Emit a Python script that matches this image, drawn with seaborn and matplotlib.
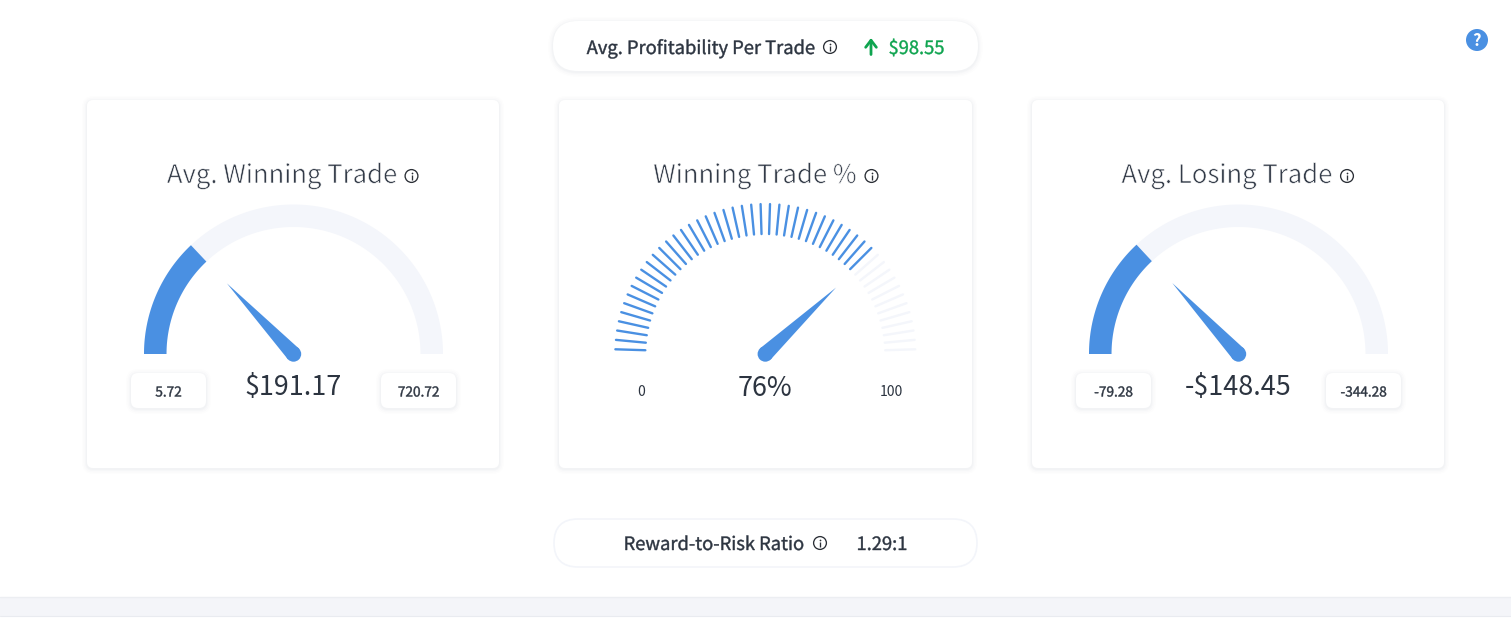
import numpy as np
import pandas as pd
import matplotlib
matplotlib.use("Agg")
import matplotlib.pyplot as plt
import matplotlib.patheffects as pe
from matplotlib.patches import FancyBboxPatch, Circle
import seaborn as sns

# Gauge readings
gauge_titles = ["Avg. Winning Trade", "Winning Trade %", "Avg. Losing Trade"]
gauge_values = [191.17, 76, -148.45]
gauge_mins = [5.72, 0, -79.28]
gauge_maxs = [720.72, 100, -344.28]
gauge_value_labels = ["$191.17", "76%", "-$148.45"]
gauge_min_labels = ["5.72", "0", "-79.28"]
gauge_max_labels = ["720.72", "100", "-344.28"]

# Summary strip
profit_label = "Avg. Profitability Per Trade"
profit_value = "$98.55"
ratio_label = "Reward-to-Risk Ratio"
ratio_value = "1.29:1"

BLUE = "#4a90e2"
TRACK = "#f4f6fb"
INK = "#2c3440"
GREEN = "#0ea44f"
TICK_COUNT = 50

sns.set_theme(style="white")
plt.rcParams["font.family"] = ["Noto Sans CJK SC", "DejaVu Sans"]

# Stroke tweaks stand in for the light and semibold weights
LIGHT = [pe.Stroke(linewidth=0.45, foreground="white")]


def semibold(color):
    return [pe.Stroke(linewidth=0.3, foreground=color)]


fig = plt.figure(figsize=(15.11, 6.27), dpi=100, facecolor="white")
ax = fig.add_axes([0, 0, 1, 1])
ax.set_xlim(0, 1511)
ax.set_ylim(627, 0)
ax.axis("off")


def on_arc(cx, cy, r, frac):
    """Point at radius r, frac of the way round a left-to-right half circle."""
    a = np.pi * np.asarray(frac)
    return cx - r * np.cos(a), cy - r * np.sin(a)


def box(x0, y0, x1, y1, radius, face="white", edge="none", shadow=True, z=1):
    if shadow:
        for grow, alpha in zip([5, 3.5, 2, 1], [0.007, 0.011, 0.015, 0.02]):
            ax.add_patch(FancyBboxPatch(
                (x0 - grow, y0 - grow + 1), x1 - x0 + 2 * grow, y1 - y0 + 2 * grow,
                boxstyle=f"round,pad=0,rounding_size={radius + grow}",
                fc="#3a4660", ec="none", alpha=alpha, zorder=z))
    ax.add_patch(FancyBboxPatch(
        (x0, y0), x1 - x0, y1 - y0,
        boxstyle=f"round,pad=0,rounding_size={radius}",
        fc=face, ec=edge, lw=1.2, zorder=z + 0.1))


def info_icon(x, y, r=6.4):
    ax.add_patch(Circle((x, y), r, fc="none", ec="#2b2f36", lw=0.95, zorder=5))
    ax.plot([x, x], [y - 0.6, y + 3.5], color="#2b2f36", lw=0.95, zorder=5,
            solid_capstyle="butt")
    ax.plot([x], [y - 3.0], "o", ms=1.25, mew=0, color="#2b2f36", zorder=5)


def band_arc(cx, cy, r_in, r_out, f0, f1, color, z):
    fr = np.linspace(f0, f1, 200)
    xo, yo = on_arc(cx, cy, r_out, fr)
    xi, yi = on_arc(cx, cy, r_in, fr[::-1])
    ax.fill(np.r_[xo, xi], np.r_[yo, yi], color=color, lw=0, zorder=z)


def needle(cx, cy, frac, length=97, hub=7.7):
    tip_x, tip_y = on_arc(cx, cy, length, frac)
    a = np.pi * frac
    px, py = np.sin(a), -np.cos(a)
    ax.fill([tip_x, cx + px * hub, cx - px * hub],
            [tip_y, cy + py * hub, cy - py * hub],
            color=BLUE, lw=0, zorder=4)
    ax.add_patch(Circle((cx, cy), hub, fc=BLUE, ec="none", zorder=4))


def gauge_fraction(i):
    return (gauge_values[i] - gauge_mins[i]) / (gauge_maxs[i] - gauge_mins[i])


# Bottom divider band
ax.axhspan(596.5, 615.5, color="#f4f5f9", lw=0, zorder=0)
ax.plot([0, 1511], [597, 597], color="#eceef2", lw=1, zorder=0.5)
ax.plot([0, 1511], [615.5, 615.5], color="#e9ebf0", lw=0.8, zorder=0.5)

# Cards
card_edges = [(87, 499), (559, 972), (1032, 1444)]
centres = [293.5, 765.3, 1238.5]
title_shift = [-11.5, -10.5, -11.5]
for (x0, x1) in card_edges:
    box(x0, 100, x1, 468, 6)

for i, cx in enumerate(centres):
    cy = 354
    frac = gauge_fraction(i)
    ax.text(cx + title_shift[i], 176, gauge_titles[i], ha="center", va="center",
            fontsize=18.5, color="#333b48", path_effects=LIGHT, zorder=5)
    ax.text(cx, 388, gauge_value_labels[i], ha="center", va="center",
            fontsize=19.4, color=INK, zorder=5)
    if i == 1:
        # Segmented dial: every tick becomes a short spoke
        tick_ids = np.arange(TICK_COUNT)
        tick_frac = (tick_ids + 0.5) / TICK_COUNT
        xo, yo = on_arc(cx, cy, 150, tick_frac)
        xi, yi = on_arc(cx, cy, 120, tick_frac)
        lit = tick_frac <= frac
        ticks = pd.DataFrame({
            "x": np.r_[xo, xi], "y": np.r_[yo, yi],
            "tick": np.r_[tick_ids, tick_ids],
            "state": np.r_[lit, lit],
        })
        sns.lineplot(data=ticks, x="x", y="y", units="tick", estimator=None,
                     hue="state", palette={True: BLUE, False: TRACK}, sort=False,
                     lw=1.7, legend=False, ax=ax, zorder=3)
        ax.text(641, 392.5, gauge_min_labels[i], ha="center", va="center",
                fontsize=10, color=INK, zorder=5)
        ax.text(891, 392.5, gauge_max_labels[i], ha="center", va="center",
                fontsize=10, color=INK, zorder=5)
    else:
        band_arc(cx, cy, 127, 149.5, 0, 1, TRACK, 2)
        band_arc(cx, cy, 127, 149.5, 0, frac, BLUE, 3)
        for lx, label in zip([cx - 125, cx + 125],
                             [gauge_min_labels[i], gauge_max_labels[i]]):
            box(lx - 37.5, 373, lx + 37.5, 408, 7, z=3)
            ax.text(lx, 392.5, label, ha="center", va="center", fontsize=9.8,
                    color=INK, path_effects=semibold(INK), zorder=5)
    needle(cx, cy, frac)

for x in [411.5, 871.5, 1347]:
    info_icon(x, 176)

# Profitability pill
box(553, 21, 978, 71, 25)
ax.text(701, 49, profit_label, ha="center", va="center", fontsize=13.2,
        color=INK, path_effects=semibold(INK), zorder=5)
info_icon(830, 47)
ax.annotate("", xy=(871, 38), xytext=(871, 54.5),
            arrowprops=dict(arrowstyle="->,head_width=0.32,head_length=0.42",
                            color=GREEN, lw=2, shrinkA=0, shrinkB=0), zorder=5)
ax.text(916.5, 49, profit_value, ha="center", va="center", fontsize=13.2,
        color=GREEN, path_effects=semibold(GREEN), zorder=5)

# Ratio pill
box(554, 519, 977, 567, 24, edge="#f3f5fa", shadow=False)
ax.text(714, 545, ratio_label, ha="center", va="center", fontsize=13.2,
        color=INK, path_effects=semibold(INK), zorder=5)
info_icon(820, 543)
ax.text(882, 545, ratio_value, ha="center", va="center", fontsize=13.2,
        color=INK, path_effects=semibold(INK), zorder=5)

# Help badge
ax.add_patch(Circle((1477, 40), 11, fc=BLUE, ec="none", zorder=5))
ax.text(1477, 41, "?", ha="center", va="center", fontsize=12, color="white",
        fontweight="bold", zorder=6)

fig.savefig("out.png", dpi=100, facecolor="white")
